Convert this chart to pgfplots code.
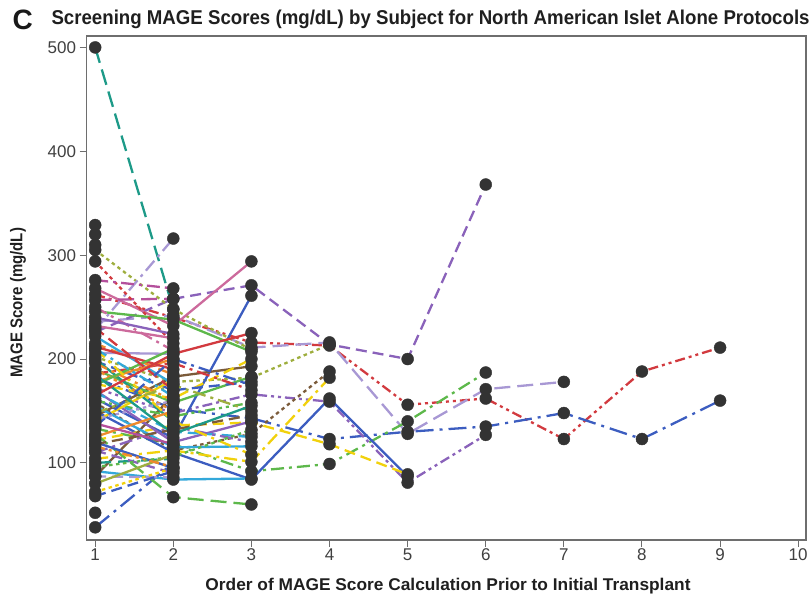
\documentclass[border=0pt]{standalone}
\usepackage{fontspec}
\setmainfont{Liberation Sans}
\usepackage{graphicx}
\usepackage{pgfplots}
\pgfplotsset{compat=1.18}

\definecolor{cBlue}{HTML}{3C5DC0}
\definecolor{cRed}{HTML}{D23A3F}
\definecolor{cGreen}{HTML}{5DB84B}
\definecolor{cPurple}{HTML}{8A62BA}
\definecolor{cLav}{HTML}{A898D4}
\definecolor{cYellow}{HTML}{F1D10C}
\definecolor{cBrown}{HTML}{7B5B3A}
\definecolor{cPink}{HTML}{CC6A9C}
\definecolor{cCyan}{HTML}{33A8DA}
\definecolor{cOlive}{HTML}{9EAE3E}
\definecolor{cTeal}{HTML}{1D9A88}
\definecolor{cOrange}{HTML}{EE8A2C}
\definecolor{cMag}{HTML}{B4509C}
\definecolor{cFrame}{HTML}{6E6E6E}
\definecolor{cDot}{HTML}{333333}

\pgfplotsset{
  S/.style={line width=2.3pt, no marks},
  Dsh/.style={dash pattern=on 11pt off 6pt},
  LDsh/.style={dash pattern=on 16pt off 7pt},
  DD/.style={dash pattern=on 13pt off 5pt on 3pt off 5pt},
  DDD/.style={dash pattern=on 10pt off 4pt on 3pt off 4pt on 3pt off 4pt},
  Dot/.style={dash pattern=on 3.5pt off 3.5pt},
  LDD/.style={dash pattern=on 18pt off 6pt on 3pt off 6pt},
  pts/.style={only marks, mark=*, mark size=6pt, mark options={draw=cDot, fill=cDot, solid}},
}

\newcommand\allpts{}
\newcommand\subj[2]{\addplot[S,#1] coordinates {#2};\xdef\allpts{\unexpanded\expandafter{\allpts}#2}}
\newcommand\pts[1]{\xdef\allpts{\unexpanded\expandafter{\allpts}#1}}

\begin{document}
\begin{tikzpicture}[x=1pt,y=1pt]
\useasboundingbox (0,0) rectangle (809,601);
\begin{axis}[
  at={(86.6pt,61pt)}, anchor=south west,
  scale only axis, width=719.4pt, height=504pt,
  xmin=0.89, xmax=10.1, ymin=25.8, ymax=511,
  xtick={1,2,3,4,5,6,7,8,9,10},
  ytick={100,200,300,400,500},
  tick align=outside, xtick pos=bottom, ytick pos=left,
  major tick length=7pt,
  tick style={cFrame, line width=1pt},
  axis line style={cFrame, line width=1.2pt},
  ticklabel style={font=\fontsize{17}{17}\selectfont, text=black!75},
  xticklabel style={yshift=2pt},
  /pgf/number format/assume math mode=true,
]
% long subjects
\subj{cRed,DDD}{(1,262)(2,240)(3,216)(4,213)(5,156)(6,162)(7,123)(8,188)(9,211)}
\subj{cBlue,LDD}{(1,182)(2,152)(3,143)(4,123)(5,130)(6,135)(7,148)(8,123)(9,160)}
\subj{cLav,LDsh}{(1,236)(2,242)(3,211)(4,216)(5,128)(6,171)(7,178)}
\subj{cPurple,Dsh}{(1,226)(2,258)(3,271)(4,214)(5,200)(6,368)}
\subj{cGreen,DD}{(1,133)(2,118)(3,92)(4,99)(5,140)(6,187)}
\subj{cPurple,DDD}{(1,172)(2,148)(3,166)(4,159)(5,81)(6,127)}
\subj{cBlue}{(1,150)(2,110)(3,84)(4,162)(5,87)}
\subj{cYellow,Dsh}{(1,122)(2,136)(3,139)(4,118)(5,89)}
\subj{cBrown,Dot}{(1,158)(2,112)(3,128)(4,188)}
\subj{cOlive,Dot}{(1,305)(2,248)(3,209)}
\subj{cOlive,Dot}{(1,202)(2,178)(3,182)(4,214)}
\subj{cYellow,DD}{(1,104)(2,112)(3,101)(4,182)}
\subj{cTeal,LDsh}{(1,500)(2,248)}
\subj{cLav,DD}{(1,228)(2,316)}
\subj{cPink}{(1,268)(2,232)(3,294)}
\subj{cBlue}{(1,162)(2,124)(3,261)}
\subj{cBlue,LDD}{(1,38)(2,100)}
\subj{cGreen,LDsh}{(1,128)(2,67)(3,60)}
\subj{cCyan}{(1,92)(2,84)(3,85)}
\subj{cGreen}{(1,246)(2,238)(3,207)}
\subj{cMag,LDsh}{(1,257)(2,258)}
\subj{cRed,Dot}{(1,294)(2,215)}
\subj{cBrown}{(1,145)(2,183)(3,193)}
\subj{cBrown}{(1,87)(2,165)}
\subj{cGreen}{(1,190)(2,158)(3,183)}
\subj{cYellow,Dsh}{(1,176)(2,162)(3,200)}
\subj{cBlue,Dsh}{(1,198)(2,170)(3,178)}
\subj{cOrange,Dsh}{(1,215)(2,185)}
\subj{cCyan}{(1,222)(2,176)}
\subj{cTeal}{(1,200)(2,140)}
\subj{cPurple}{(1,170)(2,120)(3,140)}
\subj{cRed,DD}{(1,186)(2,196)(3,170)}
\subj{cOrange}{(1,178)(2,200)}
\subj{cLav}{(1,206)(2,205)}
\subj{cPink,DD}{(1,250)(2,208)}
\subj{cMag,DD}{(1,276)(2,268)}
\subj{cRed}{(1,212)(2,190)}
\subj{cGreen,DDD}{(1,160)(2,145)(3,158)}
\subj{cYellow}{(1,140)(2,180)}
\subj{cOrange,DD}{(1,196)(2,160)}
\subj{cCyan,Dsh}{(1,168)(2,130)(3,125)}
\subj{cTeal,LDsh}{(1,100)(2,104)}
\subj{cLav,Dsh}{(1,87)(2,86)}
\subj{cPurple,DD}{(1,110)(2,135)(3,120)}
\subj{cBlue}{(1,120)(2,95)}
\subj{cCyan}{(1,155)(2,115)(3,116)}
\subj{cOrange,Dot}{(1,190)(2,150)}
\subj{cGreen}{(1,175)(2,210)}
\subj{cRed,Dsh}{(1,230)(2,170)}
\subj{cPink}{(1,232)(2,220)}
\subj{cOlive,DD}{(1,148)(2,175)(3,150)}
\subj{cYellow,DD}{(1,210)(2,140)(3,108)}
\subj{cBlue,DD}{(1,135)(2,200)(3,175)}
\subj{cPurple,Dsh}{(1,112)(2,90)}
\subj{cOrange}{(1,125)(2,150)}
\subj{cBrown,Dsh}{(1,118)(2,132)(3,146)}
\subj{cTeal}{(1,185)(2,128)(3,155)}
\subj{cLav,Dot}{(1,142)(2,160)}
\subj{cRed}{(1,165)(2,205)(3,225)}
\subj{cCyan,DD}{(1,210)(2,164)}
\subj{cGreen,Dot}{(1,96)(2,106)(3,132)}
\subj{cMag}{(1,138)(2,118)}
\subj{cYellow,Dot}{(1,72)(2,95)}
\subj{cBlue,Dsh}{(1,68)(2,92)}
\subj{cPurple}{(1,240)(2,224)}
\subj{cOlive}{(1,80)(2,108)}
\subj{cOrange,DDD}{(1,116)(2,96)}
\pts{(1,329)(1,320)(1,310)(1,52)}
\edef\tmp{\noexpand\addplot[pts] coordinates {\allpts};}\tmp
\end{axis}
\node[anchor=base west, font=\fontsize{28}{28}\selectfont\bfseries, text=black!90] at (9,571) {C};
\node[anchor=base west, text=black!88] at (48,576) {\resizebox{758pt}{\height}{\fontsize{20}{20}\selectfont\bfseries Screening MAGE Scores (mg/dL) by Subject for North American Islet Alone Protocols}};
\node[anchor=center, text=black!88] at (448,15) {\resizebox{485pt}{\height}{\fontsize{17}{17}\selectfont\bfseries Order of MAGE Score Calculation Prior to Initial Transplant}};
\node[anchor=center, rotate=90, text=black!88] at (18,298) {\resizebox{150pt}{\height}{\fontsize{17}{17}\selectfont\bfseries MAGE Score (mg/dL)}};
\end{tikzpicture}
\end{document}
